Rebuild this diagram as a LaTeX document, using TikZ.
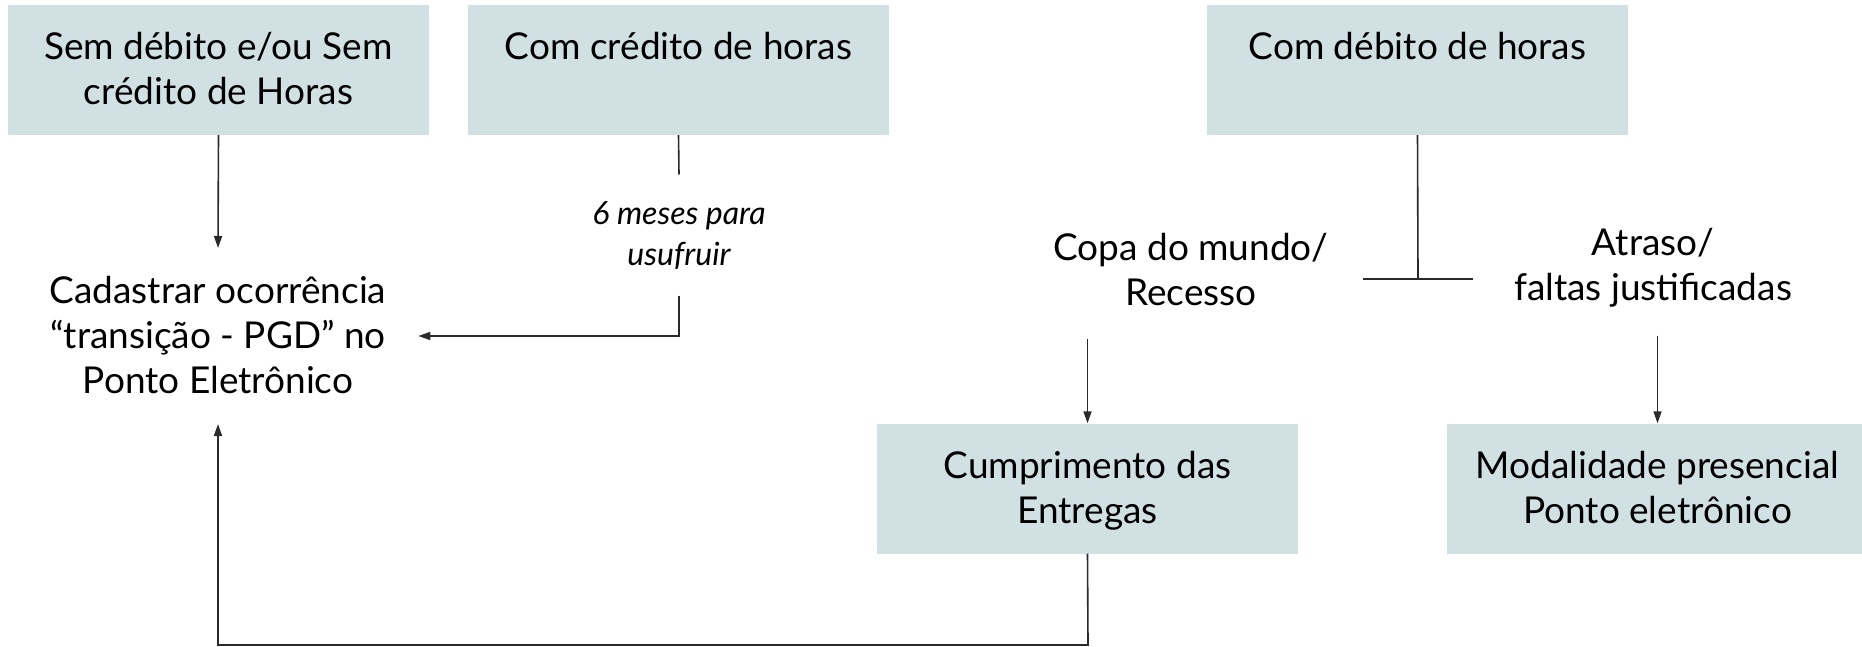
\documentclass[tikz,border=0pt]{standalone}
\usepackage{fontspec}
\setmainfont{Lato}
\usetikzlibrary{arrows.meta}
\definecolor{boxc}{HTML}{D0E0E3}
\definecolor{linec}{HTML}{2A2A2A}
\newcommand\ms{\rule[-8pt]{0pt}{40pt}}
\tikzset{
  x=1pt, y=-1pt,
  box/.style={fill=boxc, minimum width=421pt, minimum height=130pt, inner sep=0pt, align=center, font=\fontsize{37}{45}\selectfont},
  txt/.style={align=center, inner sep=0pt, font=\fontsize{37}{45}\selectfont},
  note/.style={align=center, inner sep=0pt, font=\fontsize{32}{38}\selectfont\itshape},
  ln/.style={draw=linec, line width=1.6pt},
  arr/.style={ln, -{Triangle[length=12pt,width=8pt]}}
}
\begin{document}
\begin{tikzpicture}
\useasboundingbox (0,0) rectangle (1862,647);
% boxes
\node[box] (b1) at (218.5,70) {\ms Sem débito e/ou Sem\\\ms crédito de Horas};
\node[box] (b2) at (678.5,70) {\ms Com crédito de horas\\\ms};
\node[box] (b3) at (1417.5,70) {\ms Com débito de horas\\\ms};
\node[box] (b4) at (1087.5,488.5) {\ms Cumprimento das\\\ms Entregas};
\node[box] (b5) at (1657.5,488.5) {\ms Modalidade presencial\\\ms Ponto eletrônico};
% free texts
\node[txt, outer xsep=32pt, outer ysep=23pt] (c) at (218,336) {\ms Cadastrar ocorrência\\\ms “transição - PGD” no\\\ms Ponto Eletrônico};
\node[note, outer ysep=18pt] (n) at (679,233) {\ms 6 meses para\\\ms usufruir};
\node[txt, outer sep=25pt] (cp) at (1191,271) {\ms Copa do mundo/\\\ms Recesso};
\node[txt, outer sep=27pt] (at) at (1653,266) {\ms Atraso/\\\ms faltas justificadas};
% junction coordinates
\coordinate (j) at (1418,279);
\coordinate (jl) at (1363,279);
\coordinate (jr) at (1473,279);
\coordinate (bot) at (1088,645);
% connectors
\draw[arr] (b1.south) -- (c.north);
\draw[ln] (b2.south) -- (n.north);
\draw[arr, shorten <=4pt] (n.south) |- (c.east);
\draw[ln] (b3.south) -- (j);
\draw[ln] (jl) -- (jr);
\draw[arr] (cp.south -| b4.north) -- (b4.north);
\draw[arr] (at.south -| b5.north) -- (b5.north);
\draw[arr] (b4.south) -- (bot) -| (c.south);
\end{tikzpicture}
\end{document}
